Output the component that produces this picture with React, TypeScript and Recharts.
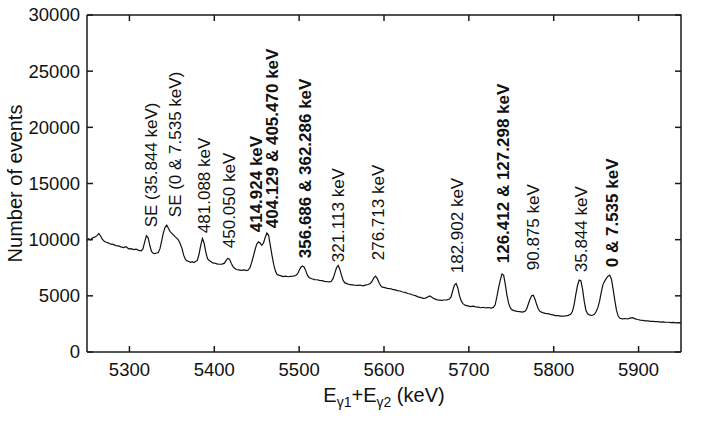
import { LineChart, Line, XAxis, YAxis, ReferenceDot, Label } from "recharts";

// summed gamma energy (keV) and counts
const energy = [
  5250, 5252, 5254, 5256, 5258, 5260, 5262, 5264, 5266, 5268, 5270, 5272, 5275, 5278,
  5281, 5284, 5287, 5290, 5293, 5296, 5299, 5302, 5305, 5308, 5311, 5314, 5316, 5318,
  5320, 5322, 5324, 5326, 5328, 5330, 5332, 5334, 5336, 5338, 5340, 5342, 5344, 5346,
  5348, 5350, 5352, 5354, 5356, 5358, 5360, 5362, 5364, 5366, 5368, 5370, 5372, 5374,
  5376, 5378, 5380, 5382, 5384, 5386, 5388, 5390, 5392, 5394, 5396, 5398, 5400, 5403,
  5406, 5409, 5412, 5414, 5416, 5418, 5420, 5422, 5424, 5426, 5429, 5432, 5435, 5438,
  5440, 5442, 5444, 5446, 5448, 5450, 5452, 5454, 5456, 5458, 5460, 5462, 5464, 5466,
  5468, 5470, 5472, 5474, 5476, 5478, 5481, 5484, 5487, 5490, 5493, 5496, 5498, 5500,
  5502, 5504, 5506, 5508, 5510, 5512, 5515, 5518, 5521, 5524, 5527, 5530, 5533, 5536,
  5538, 5540, 5542, 5544, 5546, 5548, 5550, 5552, 5554, 5557, 5560, 5563, 5566, 5569,
  5572, 5575, 5578, 5581, 5584, 5586, 5588, 5590, 5592, 5594, 5596, 5598, 5601, 5604,
  5607, 5610, 5613, 5616, 5619, 5622, 5625, 5628, 5631, 5634, 5637, 5640, 5643, 5646,
  5649, 5652, 5654, 5656, 5659, 5662, 5665, 5668, 5671, 5674, 5677, 5679, 5681, 5683,
  5685, 5687, 5689, 5691, 5693, 5696, 5699, 5702, 5705, 5708, 5711, 5714, 5717, 5720,
  5723, 5726, 5729, 5731, 5733, 5735, 5737, 5739, 5741, 5743, 5745, 5747, 5749, 5751,
  5754, 5757, 5760, 5763, 5766, 5768, 5770, 5772, 5774, 5776, 5778, 5780, 5782, 5784,
  5787, 5790, 5793, 5796, 5799, 5802, 5805, 5808, 5811, 5814, 5817, 5820, 5822, 5824,
  5826, 5828, 5830, 5832, 5834, 5836, 5838, 5840, 5842, 5845, 5848, 5850, 5852, 5854,
  5856, 5858, 5860, 5862, 5864, 5866, 5868, 5870, 5872, 5874, 5876, 5878, 5881, 5884,
  5887, 5890, 5893, 5896, 5899, 5902, 5905, 5908, 5911, 5914, 5917, 5920, 5923, 5926,
  5929, 5932, 5935, 5938, 5941, 5944, 5947, 5950,
];
const counts = [
  9950, 10080, 9980, 10120, 10200, 10260, 10380, 10550, 10330, 10050, 9870, 9790, 9720, 9600,
  9580, 9470, 9440, 9360, 9300, 9380, 9190, 9200, 9110, 9160, 9040, 9010, 9200, 9800,
  10350, 10180, 9500, 8950, 8790, 8760, 8810, 8860, 9200, 9900, 10600, 11100, 11300, 11000,
  10720, 10560, 10420, 10250, 10120, 9950, 9620, 9200, 8600, 8250, 8110, 8060, 7990, 8040,
  7970, 8060, 8150, 8700, 9500, 10100, 9700, 8900, 8300, 8150, 8060, 7940, 7920, 7840,
  7810, 7830, 7910, 8150, 8350, 8250, 7900, 7600, 7460, 7340, 7310, 7270, 7310, 7240,
  7300, 7500, 7950, 8500, 9100, 9600, 9800, 9700, 9500, 9700, 10200, 10600, 10400, 9500,
  8600, 7800, 7200, 6900, 6840, 6800, 6710, 6760, 6700, 6730, 6750, 6810, 6950, 7250,
  7550, 7650, 7550, 7200, 6800, 6610, 6520, 6440, 6430, 6370, 6360, 6290, 6260, 6240,
  6300, 6550, 7000, 7500, 7700, 7350, 6800, 6350, 6150, 6060, 5990, 5980, 5940, 5930,
  5960, 5890, 5950, 6010, 6100, 6300, 6600, 6750, 6550, 6200, 5900, 5780, 5730, 5670,
  5650, 5570, 5530, 5470, 5430, 5340, 5310, 5210, 5160, 5070, 5020, 4910, 4860, 4780,
  4800, 4920, 4990, 4900, 4750, 4660, 4610, 4600, 4630, 4640, 4710, 4900, 5450, 5950,
  6100, 5700, 5000, 4550, 4300, 4150, 4110, 4040, 4090, 4020, 3990, 3940, 3980, 3920,
  3960, 3910, 3970, 4200, 4900, 5700, 6400, 6950, 6850, 6000, 5000, 4300, 3900, 3750,
  3660, 3610, 3590, 3550, 3610, 3800, 4250, 4700, 5000, 5050, 4700, 4200, 3800, 3600,
  3510, 3440, 3410, 3350, 3310, 3240, 3240, 3190, 3190, 3210, 3260, 3350, 3600, 4200,
  5100, 5900, 6400, 6350, 5600, 4500, 3700, 3400, 3300, 3250, 3350, 3600, 3950, 4500,
  5300, 6000, 6300, 6550, 6750, 6850, 6500, 5600, 4600, 3700, 3200, 3000, 2950, 2980,
  2940, 3010, 3060, 2950, 2890, 2840, 2810, 2770, 2770, 2730, 2730, 2700, 2700, 2660,
  2680, 2650, 2650, 2610, 2640, 2600, 2610, 2600,
];

const xTicks = [5300, 5400, 5500, 5600, 5700, 5800, 5900];
const yTicks = [0, 5000, 10000, 15000, 20000, 25000, 30000];
const xDomain = [5250, 5950];
const yDomain = [0, 30000];

// peak annotations: text, energy under the label, counts where the text starts
const peakLabels = [
  "SE (35.844 keV)",
  "SE (0 & 7.535 keV)",
  "481.088 keV",
  "450.050 keV",
  "414.924 keV",
  "404.129 & 405.470 keV",
  "356.686 & 362.286 keV",
  "321.113 keV",
  "276.713 keV",
  "182.902 keV",
  "126.412 & 127.298 keV",
  "90.875 keV",
  "35.844 keV",
  "0 & 7.535 keV",
];
const peakEnergy = [
  5325, 5354, 5388, 5417, 5449, 5468, 5507, 5546, 5593, 5686, 5740, 5776, 5832, 5869,
];
const peakCounts = [
  11100, 12000, 10580, 9240, 10660, 11020, 8350, 7990, 8170, 7010, 7900, 7280, 7100, 7550,
];
const peakBold = [
  false, false, false, false, true, true, true, false, false, false, true, false, false, true,
];

const FONT = '"Liberation Sans", Arial, sans-serif';
const AXIS = "#1a1a1a";
const TICK = 6;

const spectrum = energy.map((e, i) => ({ e, c: counts[i] }));

// top and right sides of the box, along the domain corners
const frame = [
  { e: xDomain[0], f: yDomain[1] },
  { e: xDomain[1], f: yDomain[1] },
  { e: xDomain[1], f: yDomain[0] },
];

function BottomTick({ x, y, payload }: any) {
  return (
    <text x={x} y={y + 11} dy="0.71em" textAnchor="middle" fontSize={18.5} fontFamily={FONT} fill="#111">
      {payload.value}
    </text>
  );
}

function LeftTick({ x, y, payload }: any) {
  return (
    <text x={x - 7} y={y} dy="0.35em" textAnchor="end" fontSize={18.5} fontFamily={FONT} fill="#111">
      {payload.value}
    </text>
  );
}

// inward tick mark drawn at a reference point; dx/dy give the direction
function tickMark(dx: number, dy: number) {
  return (p: any) => (
    <line
      x1={p.cx}
      y1={p.cy}
      x2={p.cx + dx * TICK}
      y2={p.cy + dy * TICK}
      stroke={AXIS}
      strokeWidth={1.5}
    />
  );
}

export default function App() {
  return (
    <div style={{ position: "absolute", left: 0, top: -5 }}>
      <LineChart
        width={703}
        height={428}
        data={spectrum}
        margin={{ top: 20, right: 22, bottom: 11, left: 0 }}
      >
        <XAxis
          dataKey="e"
          type="number"
          domain={xDomain}
          ticks={xTicks}
          height={60}
          axisLine={{ stroke: AXIS, strokeWidth: 1.5 }}
          tickLine={false}
          tickSize={0}
          tickMargin={0}
          tick={BottomTick}
        >
          <Label
            content={({ viewBox }: any) => (
              <text
                x={viewBox.x + viewBox.width / 2}
                y={viewBox.y + 50}
                textAnchor="middle"
                fontSize={20}
                fontFamily={FONT}
                fill="#111"
              >
                E<tspan fontSize={14} dy={5}>γ1</tspan>
                <tspan dy={-5}>+E</tspan>
                <tspan fontSize={14} dy={5}>γ2</tspan>
                <tspan dy={-5}>{" (keV)"}</tspan>
              </text>
            )}
          />
        </XAxis>
        <YAxis
          type="number"
          domain={yDomain}
          ticks={yTicks}
          width={87}
          axisLine={{ stroke: AXIS, strokeWidth: 1.5 }}
          tickLine={false}
          tickSize={0}
          tickMargin={0}
          tick={LeftTick}
        >
          <Label
            content={({ viewBox }: any) => {
              const x = viewBox.x + 15;
              const y = viewBox.y + viewBox.height / 2;
              return (
                <text
                  x={x}
                  y={y}
                  dy="0.35em"
                  transform={`rotate(-90, ${x}, ${y})`}
                  textAnchor="middle"
                  fontSize={20}
                  fontFamily={FONT}
                  fill="#111"
                >
                  Number of events
                </text>
              );
            }}
          />
        </YAxis>
        <Line
          data={frame}
          dataKey="f"
          type="linear"
          stroke={AXIS}
          strokeWidth={1.5}
          dot={false}
          activeDot={false}
          isAnimationActive={false}
        />
        <Line
          dataKey="c"
          type="linear"
          stroke="#111"
          strokeWidth={1.2}
          dot={false}
          isAnimationActive={false}
        />
        {xTicks.map((t) => (
          <ReferenceDot key={`b${t}`} x={t} y={yDomain[0]} r={0} ifOverflow="visible" shape={tickMark(0, -1)} />
        ))}
        {xTicks.map((t) => (
          <ReferenceDot key={`t${t}`} x={t} y={yDomain[1]} r={0} ifOverflow="visible" shape={tickMark(0, 1)} />
        ))}
        {yTicks.map((t) => (
          <ReferenceDot key={`l${t}`} x={xDomain[0]} y={t} r={0} ifOverflow="visible" shape={tickMark(1, 0)} />
        ))}
        {yTicks.map((t) => (
          <ReferenceDot key={`r${t}`} x={xDomain[1]} y={t} r={0} ifOverflow="visible" shape={tickMark(-1, 0)} />
        ))}
        {peakLabels.map((text, i) => (
          <ReferenceDot
            key={text}
            x={peakEnergy[i]}
            y={peakCounts[i]}
            r={0}
            shape={(p: any) => (
              <text
                x={p.cx}
                y={p.cy}
                dy="0.35em"
                transform={`rotate(-90, ${p.cx}, ${p.cy})`}
                textAnchor="start"
                fontSize={17}
                fontWeight={peakBold[i] ? 700 : 400}
                fontFamily={FONT}
                fill="#111"
              >
                {text}
              </text>
            )}
          />
        ))}
      </LineChart>
    </div>
  );
}
